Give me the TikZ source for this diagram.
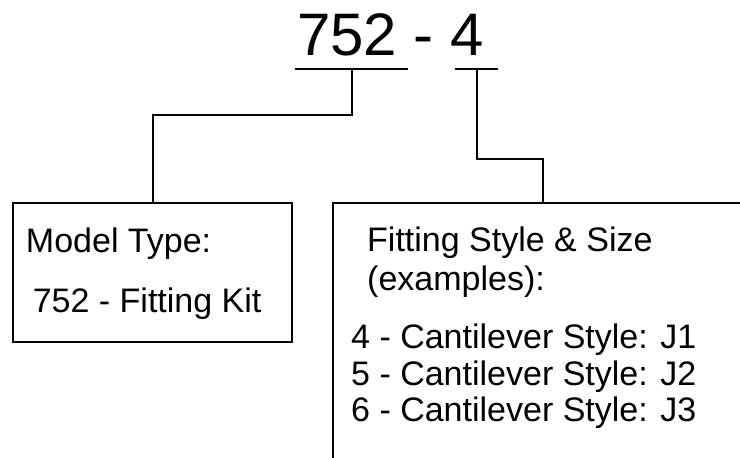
\documentclass[tikz,border=0pt]{standalone}
\usepackage{fontspec}
\setmainfont{Liberation Sans}
\begin{document}
\begin{tikzpicture}[x=1pt,y=-1pt,
  line/.style={line width=2pt,draw=black},
  boxframe/.style={draw=black,line width=2pt,rectangle,inner sep=0pt},
  txt/.style={anchor=base west,inner sep=0pt,font=\fontsize{34}{40}\selectfont},
  title/.style={anchor=base west,inner sep=0pt,font=\fontsize{60}{70}\selectfont}]
\useasboundingbox (0,0) rectangle (740,458);
\clip (0,0) rectangle (740,458);
\fill[white] (0,0) rectangle (740,458);
% title
\node[title] (code) at (297,55) {752 - 4};
\coordinate (u1a) at (295,69);
\coordinate (u1b) at (408,69);
\coordinate (u2a) at (455,69);
\coordinate (u2b) at (498,69);
\coordinate (c1) at (352,69);
\coordinate (c2) at (477,69);
\draw[line] (u1a) -- (u1b);
\draw[line] (u2a) -- (u2b);
% boxes
\node[boxframe,minimum width=279pt,minimum height=139pt] (box1) at (152.5,272.5) {};
\node[boxframe,minimum width=427pt,minimum height=277pt] (box2) at (546.5,341.5) {};
\coordinate (b2top) at (543,203);
% connectors
\draw[line] (c1) -- ++(0,46) -| (box1.north);
\draw[line] (c2) -- ++(0,90) -| (b2top);
% texts
\node[txt] (t1) at (25.8,252) {Model Type:};
\node[txt] (t2) at (32.6,312) {752 - Fitting Kit};
\node[txt] (t3) at (367,251.7) {Fitting Style \& Size};
\node[txt] (t4) at (367,290) {(examples):};
\node[txt] (t5) at (351,348) {4 - Cantilever Style: J1};
\node[txt] (t6) at (351,385) {5 - Cantilever Style: J2};
\node[txt] (t7) at (351,421) {6 - Cantilever Style: J3};
\end{tikzpicture}
\end{document}
